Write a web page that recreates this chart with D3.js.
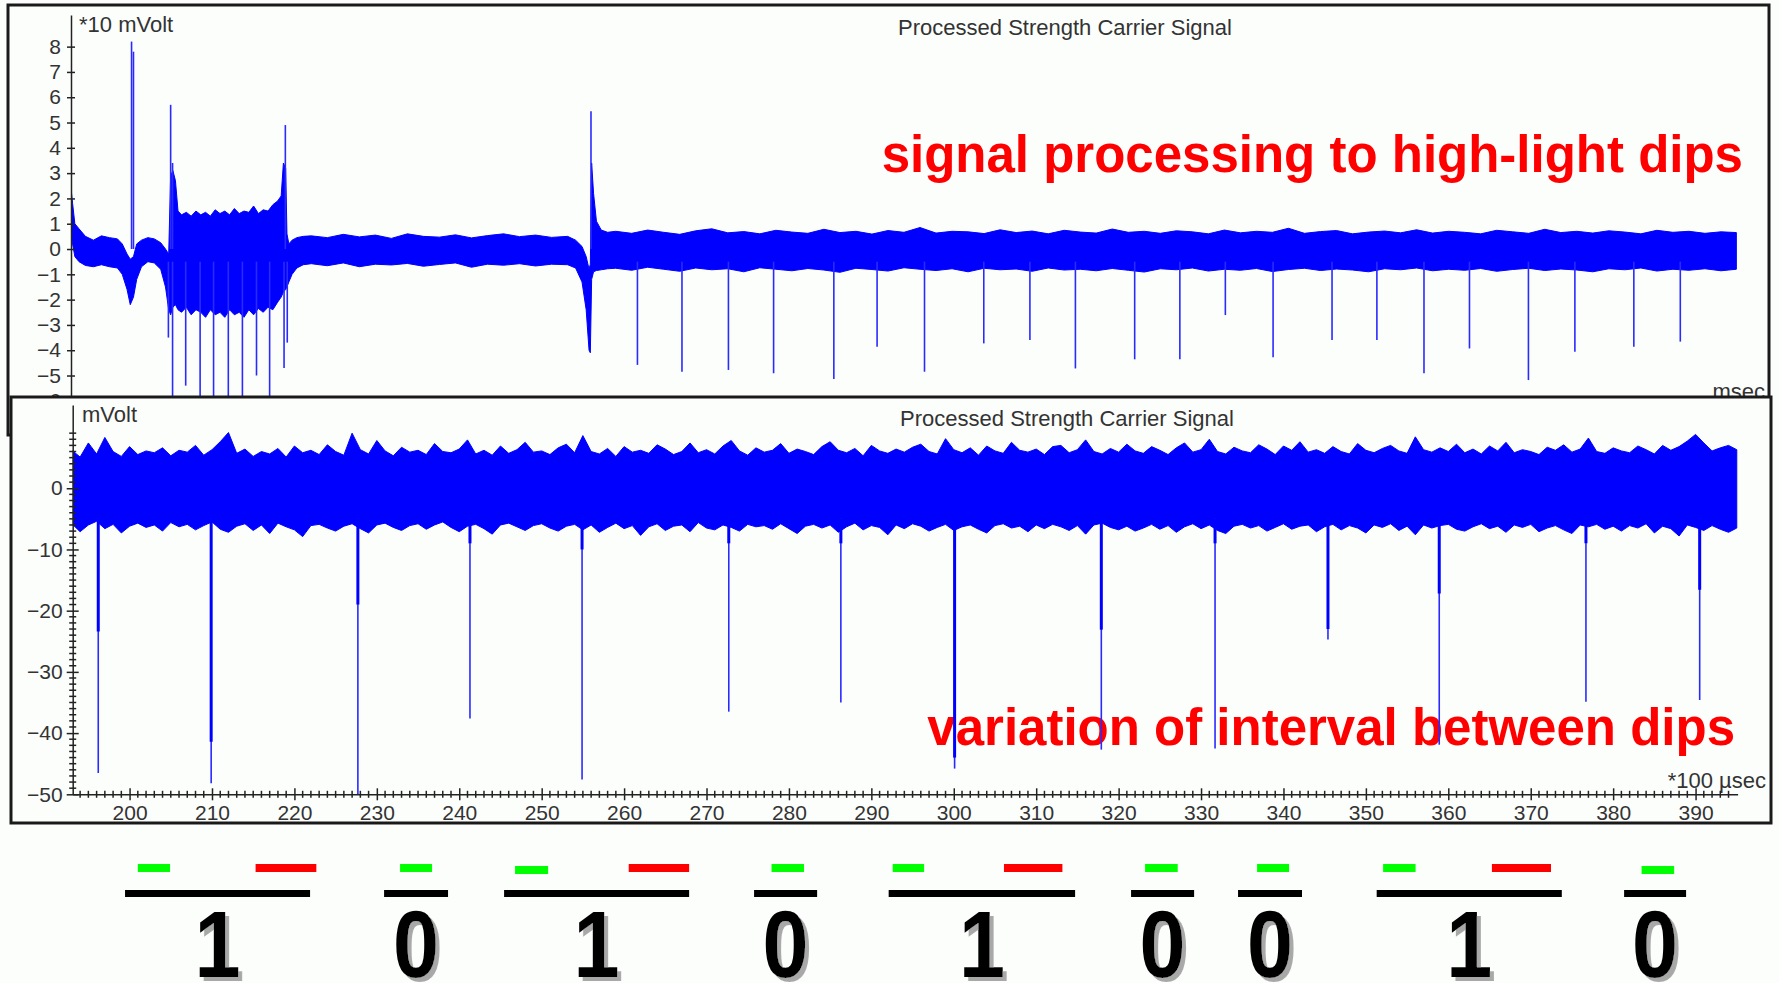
<!DOCTYPE html>
<html lang="en">
<head>
<meta charset="UTF-8">
<title>Processed Strength Carrier Signal</title>
<script src="https://d3js.org/d3.v7.min.js"></script>
<style>
  body { margin: 0; background: #fcfefc; }
  svg { display: block; background: #fcfefc; }
  .frame { fill: #fcfefc; stroke: #1a1a1a; stroke-width: 3; }
  .axis text { font-family: "Liberation Sans", Arial, sans-serif; font-size: 21px; fill: #333; }
  .axis line, .axis path, .minor line { stroke: #222; stroke-width: 1.5; }
  .title { font-family: "Liberation Sans", Arial, sans-serif; font-size: 22px; fill: #333; text-anchor: middle; }
  .unit { font-family: "Liberation Sans", Arial, sans-serif; font-size: 22px; fill: #333; }
  .note { font-family: "Liberation Sans", Arial, sans-serif; font-size: 51px; font-weight: bold; fill: #ff0000; text-anchor: end; }
  .band { fill: #0000ff; stroke: #0000ff; stroke-width: 1; }
  .needle { stroke: #2a2aff; stroke-width: 1.6; }
  .bit { font-family: "Liberation Sans", Arial, sans-serif; font-size: 94px; font-weight: bold; text-anchor: middle; fill: #050505; }
</style>
</head>
<body>
<svg width="1779" height="983"></svg>
<script>
// ---- top panel (msec, *10 mVolt) ----
// rows: [time, lower edge, upper edge] of the signal band
const topBand = [
  [0.00, 0.6, 2.4], [0.05, 0.2, 1.8], [0.12, -0.3, 1.0], [0.25, -0.5, 0.8], [0.45, -0.65, 0.5],
  [0.70, -0.7, 0.35], [0.95, -0.62, 0.52], [1.20, -0.7, 0.45], [1.45, -0.75, 0.4], [1.60, -1.0, 0.2],
  [1.75, -1.6, -0.2], [1.85, -2.2, -0.4], [1.95, -1.9, -0.3], [2.05, -1.2, 0.2], [2.20, -0.7, 0.35],
  [2.40, -0.5, 0.45], [2.60, -0.55, 0.4], [2.80, -0.8, 0.25], [2.95, -1.5, 0.0], [3.05, -2.4, -0.2],
  [3.11, -2.6, 2.9], [3.18, -2.3, 3.1], [3.26, -2.2, 2.7], [3.34, -2.4, 1.5], [3.45, -2.5, 1.35],
  [3.60, -2.3, 1.45], [3.75, -2.6, 1.3], [3.90, -2.4, 1.5], [4.05, -2.5, 1.35], [4.20, -2.7, 1.45],
  [4.35, -2.4, 1.3], [4.50, -2.6, 1.55], [4.65, -2.5, 1.4], [4.80, -2.7, 1.5], [4.95, -2.4, 1.35],
  [5.10, -2.6, 1.6], [5.25, -2.5, 1.4], [5.40, -2.7, 1.5], [5.55, -2.4, 1.45], [5.70, -2.6, 1.7],
  [5.85, -2.35, 1.4], [6.00, -2.5, 1.55], [6.15, -2.3, 1.5], [6.30, -2.4, 1.75], [6.45, -2.1, 1.9],
  [6.56, -1.9, 2.1], [6.63, -1.7, 3.4], [6.70, -1.6, 3.2], [6.74, -1.5, 0.6], [6.80, -1.3, 0.2],
  [6.90, -1.0, 0.35], [7.05, -0.75, 0.45], [7.25, -0.62, 0.5],
  [7.5, -0.58, 0.52], [8.0, -0.66, 0.45], [8.5, -0.55, 0.58], [9.0, -0.7, 0.48], [9.5, -0.6, 0.55],
  [10.0, -0.63, 0.42], [10.5, -0.57, 0.6], [11.0, -0.68, 0.5], [11.5, -0.61, 0.47], [12.0, -0.55, 0.56],
  [12.5, -0.72, 0.44], [13.0, -0.6, 0.53], [13.5, -0.64, 0.6], [14.0, -0.58, 0.49], [14.5, -0.67, 0.55],
  [15.0, -0.6, 0.46], [15.5, -0.62, 0.5],
  [15.75, -0.75, 0.35], [15.95, -1.3, 0.1], [16.08, -2.4, -0.3], [16.17, -4.0, -0.8], [16.21, -4.1, -0.6],
  [16.25, -1.2, 3.4], [16.31, -0.9, 2.2], [16.40, -0.85, 1.1], [16.55, -0.82, 0.75], [16.75, -0.78, 0.66],
  [17.0, -0.76, 0.7], [17.5, -0.84, 0.62], [18.0, -0.72, 0.75], [18.5, -0.8, 0.66], [19.0, -0.88, 0.58],
  [19.5, -0.75, 0.72], [20.0, -0.82, 0.8], [20.5, -0.78, 0.64], [21.0, -0.9, 0.69], [21.5, -0.74, 0.6],
  [22.0, -0.8, 0.74], [22.5, -0.86, 0.67], [23.0, -0.77, 0.62], [23.5, -0.83, 0.78], [24.0, -0.92, 0.65],
  [24.5, -0.76, 0.7], [25.0, -0.81, 0.59], [25.5, -0.87, 0.73], [26.0, -0.74, 0.66], [26.5, -0.8, 0.85],
  [27.0, -0.85, 0.63], [27.5, -0.78, 0.7], [28.0, -0.9, 0.68], [28.5, -0.76, 0.61], [29.0, -0.82, 0.76],
  [29.5, -0.79, 0.65], [30.0, -0.88, 0.71], [30.5, -0.75, 0.6], [31.0, -0.83, 0.74], [31.5, -0.8, 0.67],
  [32.0, -0.86, 0.63], [32.5, -0.77, 0.79], [33.0, -0.84, 0.66], [33.5, -0.91, 0.7], [34.0, -0.78, 0.62],
  [34.5, -0.82, 0.72], [35.0, -0.75, 0.68], [35.5, -0.87, 0.6], [36.0, -0.8, 0.75], [36.5, -0.84, 0.64],
  [37.0, -0.77, 0.7], [37.5, -0.89, 0.66], [38.0, -0.81, 0.82], [38.5, -0.76, 0.62], [39.0, -0.85, 0.69],
  [39.5, -0.79, 0.73], [40.0, -0.83, 0.6], [40.5, -0.9, 0.67], [41.0, -0.78, 0.71], [41.5, -0.82, 0.64],
  [42.0, -0.75, 0.76], [42.5, -0.86, 0.63], [43.0, -0.8, 0.7], [43.5, -0.84, 0.66], [44.0, -0.77, 0.6],
  [44.5, -0.88, 0.74], [45.0, -0.81, 0.68], [45.5, -0.76, 0.62], [46.0, -0.85, 0.78], [46.5, -0.79, 0.65],
  [47.0, -0.83, 0.7], [47.5, -0.9, 0.63], [48.0, -0.78, 0.72], [48.5, -0.82, 0.67], [49.0, -0.75, 0.6],
  [49.5, -0.87, 0.74], [50.0, -0.8, 0.66], [50.5, -0.84, 0.7], [51.0, -0.78, 0.62], [51.5, -0.86, 0.68],
  [51.98, -0.8, 0.65]
];
// upward spikes [time, peak]
const topPeaks = [[1.89, 8.2], [1.95, 7.8], [3.11, 5.7], [3.17, 3.4], [6.69, 4.9], [16.23, 5.45]];
// downward spikes [time, tip]
const topDips = [
  [3.04, -3.5], [3.17, -6.6], [3.58, -5.4], [4.03, -6.6], [4.45, -6.6], [4.91, -6.6],
  [5.35, -6.6], [5.79, -5.0], [6.20, -6.6], [6.65, -4.7], [6.75, -3.7],
  [17.68, -4.58], [19.07, -4.85], [20.52, -4.78], [21.93, -4.91], [23.81, -5.14], [25.16, -3.86],
  [26.64, -4.85], [28.49, -3.73], [29.93, -3.6], [31.35, -4.72], [33.20, -4.36], [34.61, -4.36],
  [36.03, -2.61], [37.52, -4.28], [39.36, -3.6], [40.76, -3.6], [42.23, -4.91], [43.65, -3.93],
  [45.49, -5.18], [46.94, -4.06], [48.78, -3.86], [50.23, -3.66]
];
const topTicks = [-6, -5, -4, -3, -2, -1, 0, 1, 2, 3, 4, 5, 6, 7, 8];

// ---- bottom panel (*100 usec, mVolt) ----
const bandStart = 193; // first sample, one sample per unit
const bandHi = [
  6.2, 5.1, 7.4, 5.6, 8.3, 6.0, 5.2, 6.8, 5.5, 6.1,
  5.8, 6.6, 5.3, 6.2, 5.9, 7.0, 5.4, 6.3, 7.6, 9.1,
  5.7, 6.4, 5.2, 6.0, 5.6, 6.5, 5.1, 6.9, 5.8, 6.2,
  5.5, 7.1, 6.0, 5.4, 9.0, 6.3, 5.6, 7.8, 6.1, 5.3,
  6.7, 5.9, 6.2, 5.5, 7.3, 6.0, 5.8, 6.4, 7.9, 5.6,
  6.2, 5.4, 6.9, 5.7, 6.3, 7.5, 5.9, 6.1, 5.5, 6.6,
  7.2, 5.8, 8.6, 6.0, 5.6, 6.5, 5.2, 6.8, 5.9, 6.2,
  5.7, 7.1, 6.4, 5.5, 6.0, 7.4, 5.8, 6.3, 5.6, 6.9,
  7.8, 6.1, 5.4, 6.6, 5.9, 6.2, 7.3, 5.7, 6.4, 6.0,
  5.5, 6.8, 7.6, 6.2, 5.8, 6.5, 5.3, 7.0, 6.1, 5.7,
  6.4, 5.9, 6.7, 7.2, 6.0, 5.6, 8.1, 6.3, 5.8, 6.6,
  5.4, 6.9, 6.1, 5.7, 7.5, 6.2, 5.9, 6.4, 5.5, 6.8,
  7.0, 5.8, 6.3, 7.9, 6.0, 5.6, 6.5, 5.9, 7.2, 6.1,
  5.7, 6.8, 6.2, 5.5, 6.6, 7.4, 5.9, 6.3, 8.0, 6.0,
  5.6, 6.7, 6.1, 5.8, 7.1, 6.4, 5.5, 6.9, 6.2, 7.6,
  5.9, 6.3, 5.7, 6.8, 6.0, 5.6, 7.3, 6.2, 5.8, 6.5,
  7.0, 6.1, 5.7, 8.4, 6.3, 5.9, 6.6, 6.0, 7.2, 5.8,
  6.4, 5.6, 6.9, 6.1, 7.5, 5.8, 6.3, 6.0, 5.5, 6.7,
  6.2, 7.1, 5.9, 6.4, 8.2, 6.0, 5.7, 6.6, 6.1, 5.8,
  6.9, 6.3, 5.6, 7.0, 6.2, 6.8, 7.7, 8.8, 7.4, 6.1,
  6.6, 7.0, 6.3
];
const bandLo = [
  -5.8, -7.1, -6.0, -5.4, -6.6, -5.9, -7.3, -6.2, -5.7, -6.4,
  -6.0, -7.0, -5.6, -6.3, -5.9, -6.8, -6.1, -5.5, -6.7, -7.2,
  -6.2, -5.8, -6.9, -6.0, -7.4, -5.7, -6.3, -6.8, -7.9, -6.1,
  -5.9, -6.5, -7.0, -6.2, -5.8, -6.6, -7.3, -6.0, -5.7, -6.4,
  -6.9, -6.1, -5.8, -6.7, -6.0, -5.5, -6.4, -7.1, -6.2, -5.9,
  -6.6, -7.5, -6.0, -5.7, -6.3, -6.9, -6.1, -5.8, -6.5, -7.0,
  -6.2, -5.9, -6.8, -6.0, -7.2, -6.4, -5.7, -6.6, -6.1, -7.7,
  -6.3, -5.8, -6.9, -6.2, -6.0, -7.1, -5.6, -6.5, -6.8, -6.0,
  -6.4, -7.0, -5.9, -6.3, -6.1, -6.7, -5.8, -6.6, -7.4, -6.2,
  -5.9, -6.5, -6.0, -7.2, -6.3, -5.7, -6.8, -6.1, -6.4, -7.6,
  -6.0, -6.6, -5.8, -6.2, -7.0, -6.4, -5.9, -6.9, -6.3, -6.0,
  -6.7, -7.3, -6.1, -5.8, -6.5, -6.2, -7.1, -6.0, -6.6, -5.9,
  -6.3, -6.9, -6.1, -7.5, -6.0, -5.7, -6.4, -6.8, -6.2, -7.0,
  -6.5, -5.9, -6.7, -6.1, -7.2, -6.3, -5.8, -6.6, -6.0, -6.9,
  -7.4, -6.2, -5.9, -6.5, -6.1, -7.0, -6.4, -5.8, -6.7, -6.2,
  -6.0, -7.1, -6.3, -5.9, -6.8, -6.1, -6.5, -7.3, -6.0, -6.4,
  -5.8, -6.9, -6.2, -7.6, -6.0, -6.5, -6.1, -5.9, -6.7, -7.0,
  -6.3, -5.8, -6.6, -6.2, -7.2, -6.0, -6.4, -5.9, -7.1, -6.5,
  -6.1, -6.8, -7.4, -6.0, -6.3, -5.9, -6.7, -6.2, -7.0, -6.1,
  -6.5, -5.8, -7.3, -6.2, -6.6, -7.8, -6.0, -6.4, -6.9, -6.1,
  -6.7, -7.2, -6.5
];
// dips [position, tip, end of the thick part]
const bottomDips = [
  [196.2, -46.5, -23.4], [209.9, -48.2, -41.4], [227.7, -50.0, -19.0], [241.3, -37.6, -9.0],
  [254.9, -47.6, -10.0], [272.7, -36.5, -9.0], [286.3, -35.0, -9.0], [300.1, -45.8, -44.0],
  [317.9, -42.7, -23.1], [331.7, -42.5, -9.0], [345.4, -24.7, -23.0], [358.9, -41.9, -17.2],
  [376.7, -34.9, -9.0], [390.5, -34.6, -16.6]
];
const bottomYTicks = [-50, -40, -30, -20, -10, 0];
const bottomXTicks = [200, 210, 220, 230, 240, 250, 260, 270, 280, 290, 300, 310, 320, 330, 340, 350, 360, 370, 380, 390];

// ---- decoded bits (positions in *100 usec) ----
const bits = ["1", "0", "1", "0", "1", "0", "0", "1", "0"];
const bitSpans = [
  [199.45, 221.9], [230.88, 238.64], [245.44, 267.89], [275.77, 283.42], [292.1, 314.72],
  [321.51, 329.16], [334.49, 342.25], [351.31, 373.77], [381.33, 388.85]
];
// [start, end, sits lower]
const greenMarks = [
  [201.0, 204.91, 0], [232.82, 236.7, 0], [246.77, 250.78, 1], [277.89, 281.83, 0], [292.59, 296.4, 0],
  [323.21, 327.17, 0], [336.8, 340.68, 0], [352.09, 356.03, 0], [383.45, 387.4, 1]
];
const redMarks = [[215.29, 222.66], [260.56, 267.89], [306.09, 313.18], [365.29, 372.46]];

const svg = d3.select("svg");

// scales
const xT = d3.scaleLinear().domain([0, 52]).range([71, 1737]);
const yT = d3.scaleLinear().domain([-6.6, 9.25]).range([416, 15]);
const xB = d3.scaleLinear().domain([193.1, 395.1]).range([72.7, 1737.6]);
const yB = d3.scaleLinear().domain([-50, 13.6]).range([794.3, 405]);

const defs = svg.append("defs");
defs.append("clipPath").attr("id", "clipT").append("rect")
  .attr("x", 71).attr("y", 10).attr("width", 1667).attr("height", 410);
defs.append("clipPath").attr("id", "clipB").append("rect")
  .attr("x", 72.7).attr("y", 400).attr("width", 1666).attr("height", 397);
defs.append("filter").attr("id", "shadow")
  .attr("x", "-10%").attr("y", "-10%").attr("width", "130%").attr("height", "130%")
  .append("feDropShadow")
  .attr("dx", 4.5).attr("dy", 4).attr("stdDeviation", 0.7)
  .attr("flood-color", "#a8a8a8").attr("flood-opacity", 1);

// ================= top panel =================
svg.append("rect").attr("class", "frame")
  .attr("x", 8).attr("y", 5).attr("width", 1761).attr("height", 430);

svg.append("text").attr("class", "title").attr("x", 1065).attr("y", 35)
  .text("Processed Strength Carrier Signal");
svg.append("text").attr("class", "unit").attr("x", 79).attr("y", 32).text("*10 mVolt");
svg.append("text").attr("class", "unit").attr("x", 1765).attr("y", 399)
  .attr("text-anchor", "end").text("msec");
svg.append("text").attr("class", "note").attr("x", 1743).attr("y", 172)
  .text("signal processing to high-light dips");

const gT = svg.append("g").attr("clip-path", "url(#clipT)");

gT.append("path").datum(topBand).attr("class", "band")
  .attr("d", d3.area().x(d => xT(d[0])).y0(d => yT(d[1])).y1(d => yT(d[2])));

gT.selectAll(".peak").data(topPeaks).join("line").attr("class", "needle")
  .attr("x1", d => xT(d[0])).attr("x2", d => xT(d[0]))
  .attr("y1", yT(0)).attr("y2", d => yT(d[1]));

gT.selectAll(".dip").data(topDips).join("line").attr("class", "needle")
  .attr("x1", d => xT(d[0])).attr("x2", d => xT(d[0]))
  .attr("y1", yT(-0.5)).attr("y2", d => yT(d[1]));

const axT = svg.append("g").attr("class", "axis").attr("transform", "translate(71,0)")
  .call(d3.axisLeft(yT).tickValues(topTicks).tickSize(4).tickSizeOuter(0).tickPadding(6));
axT.selectAll(".tick line").attr("x1", 4);

// ================= bottom panel =================
svg.append("rect").attr("class", "frame")
  .attr("x", 11).attr("y", 397).attr("width", 1760).attr("height", 426);

svg.append("text").attr("class", "title").attr("x", 1067).attr("y", 426)
  .text("Processed Strength Carrier Signal");
svg.append("text").attr("class", "unit").attr("x", 82).attr("y", 422).text("mVolt");
svg.append("text").attr("class", "unit").attr("x", 1766).attr("y", 788)
  .attr("text-anchor", "end").text("*100 µsec");
svg.append("text").attr("class", "note").attr("x", 1735).attr("y", 745)
  .text("variation of interval between dips");

const gB = svg.append("g").attr("clip-path", "url(#clipB)");
const n = Math.min(bandHi.length, bandLo.length);
const bandRows = d3.range(n).map(i => [bandStart + i, bandLo[i], bandHi[i]]);

gB.append("path").datum(bandRows).attr("class", "band")
  .attr("d", d3.area().x(d => xB(d[0])).y0(d => yB(d[1])).y1(d => yB(d[2])));

gB.selectAll(".dipThin").data(bottomDips).join("line").attr("class", "needle")
  .attr("x1", d => xB(d[0])).attr("x2", d => xB(d[0]))
  .attr("y1", yB(-5)).attr("y2", d => yB(d[1]));
gB.selectAll(".dipThick").data(bottomDips).join("line")
  .attr("stroke", "#0000ff").attr("stroke-width", 3)
  .attr("x1", d => xB(d[0])).attr("x2", d => xB(d[0]))
  .attr("y1", yB(-5)).attr("y2", d => yB(d[2]));

// y axis with minor ticks
const axBy = svg.append("g").attr("class", "axis").attr("transform", "translate(72.7,0)")
  .call(d3.axisLeft(yB).tickValues(bottomYTicks).tickSize(6).tickSizeOuter(0).tickPadding(4));
axBy.selectAll(".tick line").attr("x1", 6);
svg.append("g").attr("class", "minor").selectAll("line")
  .data(d3.range(-50, 10).filter(v => v % 10 !== 0)).join("line")
  .attr("x1", 72.7 - 3.5).attr("x2", 72.7 + 3.5)
  .attr("y1", d => yB(d)).attr("y2", d => yB(d));

// x axis with minor ticks
const axBx = svg.append("g").attr("class", "axis").attr("transform", `translate(0,${yB(-50)})`)
  .call(d3.axisBottom(xB).tickValues(bottomXTicks).tickSize(6).tickSizeOuter(0).tickPadding(5));
axBx.selectAll(".tick line").attr("y1", -6);
svg.append("g").attr("class", "minor").selectAll("line")
  .data(d3.range(194, 395).filter(v => v % 10 !== 0)).join("line")
  .attr("x1", d => xB(d)).attr("x2", d => xB(d))
  .attr("y1", yB(-50) - 3.5).attr("y2", yB(-50) + 3.5);

// ================= decoded bits =================
const gBits = svg.append("g");
gBits.selectAll(".g").data(greenMarks).join("rect")
  .attr("x", d => xB(d[0])).attr("width", d => xB(d[1]) - xB(d[0]))
  .attr("y", d => 864 + d[2] * 2).attr("height", 8).attr("fill", "#00ff00");
gBits.selectAll(".r").data(redMarks).join("rect")
  .attr("x", d => xB(d[0])).attr("width", d => xB(d[1]) - xB(d[0]))
  .attr("y", 864).attr("height", 8).attr("fill", "#ff0000");
gBits.selectAll(".k").data(bitSpans).join("rect")
  .attr("x", d => xB(d[0])).attr("width", d => xB(d[1]) - xB(d[0]))
  .attr("y", 890).attr("height", 7).attr("fill", "#000");

const bitMid = i => (xB(bitSpans[i][0]) + xB(bitSpans[i][1])) / 2;
gBits.selectAll(".digit").data(bits).join("text").attr("class", "bit")
  .attr("filter", "url(#shadow)")
  .attr("transform", (d, i) => `translate(${bitMid(i)},977) scale(0.88,1)`)
  .text(d => d);
</script>
</body>
</html>
